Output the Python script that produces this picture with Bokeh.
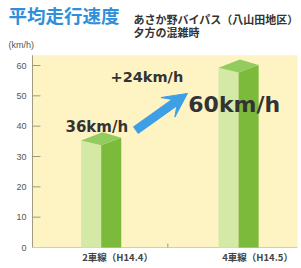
from bokeh.plotting import figure
from bokeh.models import Range1d, Label, Arrow, VeeHead
from bokeh.core.properties import value
from bokeh.embed import file_html
from bokeh.resources import INLINE

# ---- data ----
categories = ["2車線（H14.4）", "4車線（H14.5）"]
speeds = [36, 60]
value_labels = ["36km/h", "60km/h"]
diff_label = "+24km/h"
y_ticks = [0, 10, 20, 30, 40, 50, 60]
title = "平均走行速度"
subtitle1 = "あさか野バイパス（八山田地区）"
subtitle2 = "夕方の混雑時"
unit = "(km/h)"

W, H = 301, 268
X_END, Y_TOP = 1.929, 63.4          # plotting-area extent in data units
p = figure(width=W, height=H, output_backend="svg", toolbar_location=None,
           x_range=Range1d(-0.2329, 1.958), y_range=Range1d(-6.92, 81.43),
           x_axis_type=None, y_axis_type=None,
           min_border=0, min_border_left=0, min_border_right=0,
           min_border_top=0, min_border_bottom=0)
p.background_fill_color = "white"
p.border_fill_color = "white"
p.outline_line_color = None
p.grid.visible = False

# plotting area background
p.quad(left=[0], right=[X_END], bottom=[0], top=[Y_TOP], fill_color="#fdf3c3", line_color=None)

# y axis: line, inward ticks, labels
tick_len = 0.058
p.segment(x0=[0], y0=[0], x1=[0], y1=[Y_TOP], line_color="#a09a80", line_width=1)
p.segment(x0=[0] * len(y_ticks), y0=y_ticks, x1=[tick_len] * len(y_ticks), y1=y_ticks,
          line_color="#a09a80", line_width=1)
p.text(x=[-0.044] * len(y_ticks), y=y_ticks, text=[str(t) for t in y_ticks],
       text_align="right", text_baseline="middle", text_font=value("Liberation Sans"),
       text_font_size="9px", text_color="#555555")

# x axis line and middle tick
p.segment(x0=[0], y0=[0], x1=[X_END], y1=[0], line_color="#cccccc", line_width=1)
p.segment(x0=[0.985], y0=[0], x1=[0.985], y1=[1.3], line_color="#999999", line_width=1)

# bars with 3D-ish top
hw = 0.146
for i, v in enumerate(speeds):
    xc = i + 0.5
    x0, x1 = xc - hw, xc + hw
    vL, vB, vR, vF = v - 0.7, v + 2.0, v + 0.2, v - 2.3
    p.patch([x0, x0, xc, xc], [0, vL, vF, 0], fill_color="#d3e9a5", line_color=None)
    p.patch([xc, xc, x1, x1], [0, vF, vR, 0], fill_color="#7cba3b", line_color=None)
    p.patch([x0, xc + 0.01, x1, xc], [vL, vB, vR, vF], fill_color="#92cb5e", line_color=None)

# category labels
cat_x = [0.619, 1.638]
p.text(x=cat_x, y=[-2.97] * len(categories), text=categories, text_align="center",
       text_baseline="middle", text_font=value("Noto Sans CJK JP"), text_font_size="9.5px",
       text_font_style="bold", text_color="#444444")

# value labels
p.add_layout(Label(x=0.24, y=39.6, text=value_labels[0], text_baseline="middle",
                   text_font="DejaVu Sans", text_font_style="bold",
                   text_font_size="15px", text_color="#333333"))
p.add_layout(Label(x=1.134, y=47.2, text=value_labels[1], text_baseline="middle",
                   text_font="DejaVu Sans", text_font_style="bold",
                   text_font_size="22px", text_color="#333333"))
p.add_layout(Label(x=0.568, y=56.1, text=diff_label, text_baseline="middle",
                   text_font="DejaVu Sans", text_font_style="bold",
                   text_font_size="14.5px", text_color="#333333"))

# arrow
p.add_layout(Arrow(end=VeeHead(size=24, fill_color="#3d9fe6", line_color="#3d9fe6"),
                   x_start=0.75, y_start=38.6, x_end=1.128, y_end=50.8,
                   line_width=9, line_color="#3d9fe6"))

# titles
p.add_layout(Label(x=-0.175, y=76.6, text=title, text_baseline="middle",
                   text_font="Noto Sans CJK JP", text_font_style="bold",
                   text_font_size="18.5px", text_color="#2f8fd8"))
p.add_layout(Label(x=0.735, y=75.4, text=subtitle1, text_baseline="middle",
                   text_font="Noto Sans CJK JP", text_font_style="bold",
                   text_font_size="11px", text_color="#333333"))
p.add_layout(Label(x=0.735, y=71.0, text=subtitle2, text_baseline="middle",
                   text_font="Noto Sans CJK JP", text_font_style="bold",
                   text_font_size="11px", text_color="#333333"))
p.add_layout(Label(x=-0.175, y=66.7, text=unit, text_baseline="middle",
                   text_font="Liberation Sans", text_font_size="9px",
                   text_color="#555555"))

open("out.html", "w").write(file_html(p, INLINE))
